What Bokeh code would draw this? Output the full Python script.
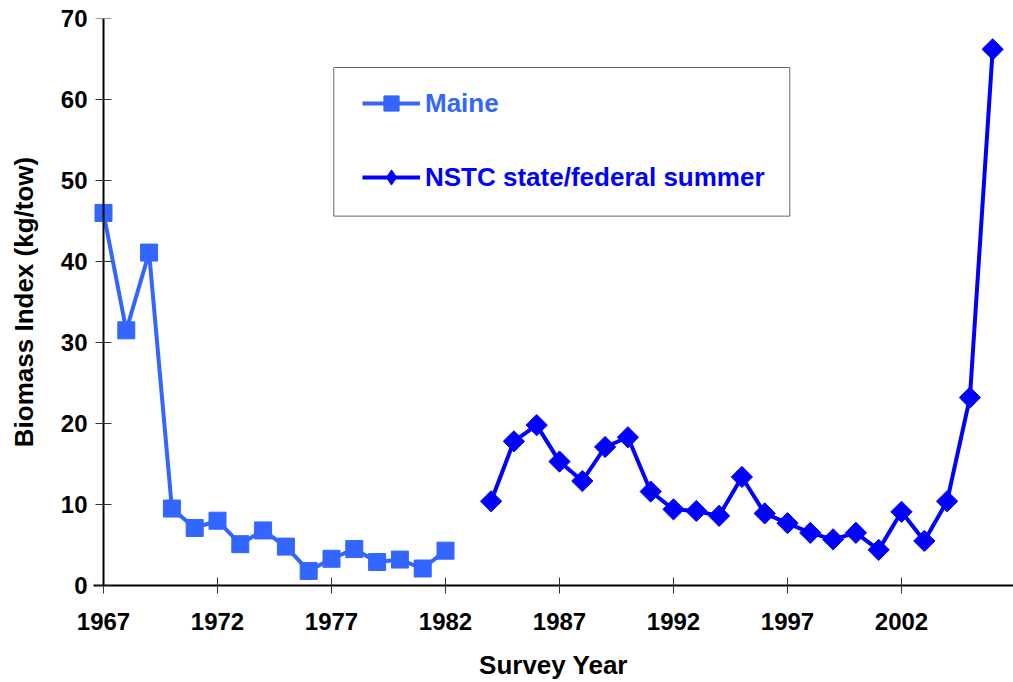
from bokeh.plotting import figure
from bokeh.models import (Range1d, FixedTicker, Legend, LegendItem, BoxAnnotation,
                          LinearAxis)
from bokeh.embed import file_html
from bokeh.resources import INLINE

# ---- data ----
maine_years = list(range(1967, 1983))
maine_biomass = [46.0, 31.5, 41.1, 9.5, 7.1, 8.0, 5.1, 6.8, 4.8, 1.8,
                 3.3, 4.5, 2.9, 3.2, 2.1, 4.3]
nstc_years = list(range(1984, 2007))
nstc_biomass = [10.4, 17.8, 19.8, 15.3, 12.9, 17.1, 18.3, 11.6, 9.4, 9.2,
                8.6, 13.4, 8.9, 7.7, 6.5, 5.7, 6.5, 4.4, 9.1, 5.5,
                10.4, 23.2, 66.2]
x_tick_years = [1967, 1972, 1977, 1982, 1987, 1992, 1997, 2002]
y_ticks = [0, 10, 20, 30, 40, 50, 60, 70]
series_names = ["Maine", "NSTC state/federal summer"]

MAINE_COLOR = "#3366FF"
NSTC_COLOR = "#0000FF"
FONT = "Liberation Sans"

PX_PER_YEAR = 22.8
LEFT_PAD_PX = 10           # room so the first marker is not clipped
x_start = x_tick_years[0] - LEFT_PAD_PX / PX_PER_YEAR
frame_w = 920
x_end = x_start + frame_w / PX_PER_YEAR

p = figure(frame_width=frame_w, frame_height=567, output_backend="svg",
           toolbar_location=None,
           x_range=Range1d(x_start, x_end), y_range=Range1d(0, 70),
           min_border_left=103 - LEFT_PAD_PX, min_border_top=18,
           min_border_right=0, min_border_bottom=0)

p.xgrid.visible = False
p.ygrid.visible = False
p.outline_line_color = None
p.background_fill_color = "white"
p.border_fill_color = "white"

# ---- glyphs ----
maine_line = p.line(maine_years, maine_biomass, line_color=MAINE_COLOR, line_width=4)
maine_pts = p.scatter(maine_years, maine_biomass, marker="square", size=17,
                      fill_color=MAINE_COLOR, line_color=MAINE_COLOR, line_width=1)
nstc_line = p.line(nstc_years, nstc_biomass, line_color=NSTC_COLOR, line_width=4)
nstc_pts = p.scatter(nstc_years, nstc_biomass, marker="square", angle=0.785398,
                     size=15, fill_color=NSTC_COLOR, line_color=NSTC_COLOR, line_width=1)
# hidden twin used only for the legend sample (legend ignores marker angle)
nstc_legend_pts = p.scatter(nstc_years, nstc_biomass, marker="diamond", size=15,
                            fill_color=NSTC_COLOR, line_color=NSTC_COLOR,
                            line_width=1, visible=False)

# ---- axes ----
for ax in (p.xaxis, p.yaxis):
    ax.axis_line_color = "black"
    ax.axis_line_width = 2
    ax.major_tick_line_color = "#333333"
    ax.major_tick_line_width = 1
    ax.major_tick_in = 8
    ax.major_tick_out = 8
    ax.minor_tick_line_color = None
    ax.major_label_text_font = FONT
    ax.major_label_text_font_style = "bold"
    ax.major_label_text_font_size = "24px"
    ax.major_label_text_color = "black"
    ax.axis_label_text_font = FONT
    ax.axis_label_text_font_style = "bold"
    ax.axis_label_text_font_size = "26px"
    ax.axis_label_text_color = "black"

p.xaxis.ticker = FixedTicker(ticks=x_tick_years)
p.xaxis.major_label_overrides = {yr: str(yr) for yr in x_tick_years}
p.xaxis.major_label_standoff = 19
p.xaxis.axis_label = "Survey Year"
p.xaxis.axis_label_standoff = 17

# left axis: labels and title only (sits at the frame edge)
p.yaxis.ticker = FixedTicker(ticks=y_ticks)
p.yaxis.axis_line_color = None
p.yaxis.major_tick_line_color = None
p.yaxis.major_tick_in = 0
p.yaxis.major_tick_out = 0
p.yaxis.major_label_standoff = 6
p.yaxis.axis_label = "Biomass Index (kg/tow)"
p.yaxis.axis_label_standoff = 19

# axis line and ticks placed exactly at the first survey year
y_line_axis = LinearAxis(fixed_location=x_tick_years[0],
                         ticker=FixedTicker(ticks=y_ticks),
                         major_label_overrides={t: "" for t in y_ticks},
                         major_label_text_font_size="1px",
                         major_label_standoff=0,
                         axis_line_color="black", axis_line_width=2,
                         major_tick_line_color="#333333", major_tick_line_width=1,
                         major_tick_in=8, major_tick_out=8,
                         minor_tick_line_color=None)
p.add_layout(y_line_axis, "right")

# ---- legend frame and entries ----
legend_box = BoxAnnotation(left=1977.1, right=1997.1, bottom=45.6, top=63.95,
                           fill_color="white", fill_alpha=1.0,
                           line_color="#666666", line_width=1, line_alpha=1.0)
p.add_layout(legend_box)

common = dict(glyph_width=58, glyph_height=38, label_height=38, padding=0,
              margin=0, spacing=0, label_standoff=5,
              label_text_font=FONT, label_text_font_style="bold",
              label_text_font_size="26px", border_line_alpha=0,
              background_fill_alpha=0, inactive_fill_alpha=0)

leg_maine = Legend(items=[LegendItem(label=series_names[0], renderers=[maine_line, maine_pts])],
                   location=(259 + LEFT_PAD_PX, 463), label_text_color=MAINE_COLOR, **common)
leg_nstc = Legend(items=[LegendItem(label=series_names[1], renderers=[nstc_line, nstc_legend_pts])],
                  location=(259 + LEFT_PAD_PX, 389), label_text_color=NSTC_COLOR, **common)
p.add_layout(leg_maine, "center")
p.add_layout(leg_nstc, "center")

open("out.html", "w").write(file_html(p, INLINE))
